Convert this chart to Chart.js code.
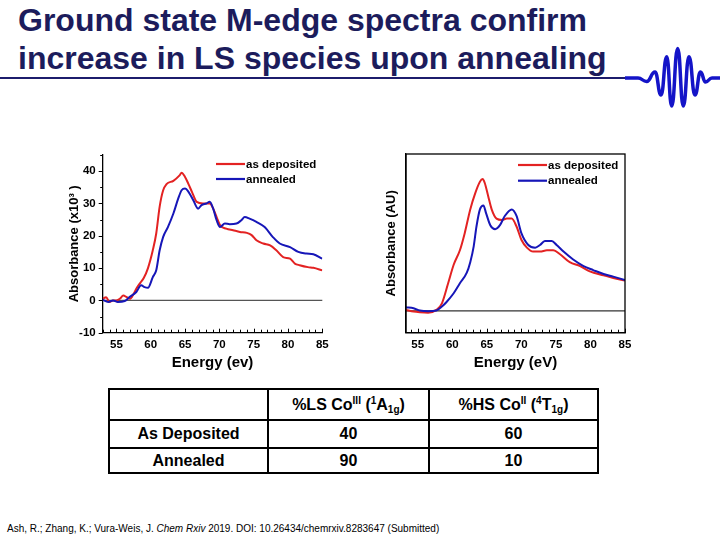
<!DOCTYPE html>
<html>
<head>
<meta charset="utf-8">
<script src="https://cdn.jsdelivr.net/npm/chart.js@4.4.1/dist/chart.umd.min.js"></script>
<style>
  html, body { margin: 0; padding: 0; background: #fff; }
  body { width: 720px; height: 540px; position: relative; overflow: hidden;
         font-family: "Liberation Sans", Arial, sans-serif; }
  #title { position: absolute; left: 18px; top: 2px; font-size: 32px; font-weight: bold;
           line-height: 37.5px; color: #1c1c5c; white-space: nowrap; }
  #rule { position: absolute; left: 0; top: 77px; width: 628px; height: 1.5px; background: #1c1c6c; }
  #wave { position: absolute; left: 0; top: 0; }
  canvas { position: absolute; }
  #tbl { position: absolute; left: 108px; top: 388px; border-collapse: collapse;
         font-weight: bold; font-size: 16px; color: #000; }
  #tbl td { border: 2px solid #000; text-align: center; padding: 0; }
  #tbl sup, #tbl sub { font-size: 10px; line-height: 0; position: relative; vertical-align: baseline; }
  #tbl sup { top: -0.6em; }
  #tbl sub { top: 0.35em; }
  #cite { position: absolute; left: 7px; top: 523px; font-size: 10px; color: #000;
          font-family: "Liberation Sans", Arial, sans-serif; white-space: nowrap; }
</style>
</head>
<body>
<div id="title">Ground state M-edge spectra confirm<br>increase in LS species upon annealing</div>
<div id="rule"></div>
<svg id="wave" width="720" height="120"><path id="wavePath" fill="none" stroke="#1414c8" stroke-width="3.5" stroke-linejoin="round"/></svg>

<canvas id="leftChart" width="280" height="240" style="left:60px;top:140px"></canvas>
<canvas id="rightChart" width="280" height="240" style="left:370px;top:140px"></canvas>

<table id="tbl">
  <tr style="height:31px"><td style="width:157px"></td><td style="width:159px">%LS Co<sup>III</sup> (<sup>1</sup>A<sub>1g</sub>)</td><td style="width:167px">%HS Co<sup>II</sup> (<sup>4</sup>T<sub>1g</sub>)</td></tr>
  <tr style="height:28px"><td>As Deposited</td><td id="c11"></td><td id="c12"></td></tr>
  <tr style="height:25px"><td>Annealed</td><td id="c21"></td><td id="c22"></td></tr>
</table>

<div id="cite">Ash, R.; Zhang, K.; Vura-Weis, J. <i>Chem Rxiv</i> 2019. DOI: 10.26434/chemrxiv.8283647 (Submitted)</div>

<script>
// ---- data ----
const seriesLabels = ["as deposited", "annealed"];

// left panel, Absorbance (x10^3)
const leftEnergyDep = [53, 53.5, 54, 54.5, 55, 55.5, 56, 56.5, 57, 57.5, 58, 58.5, 59, 59.6, 60.3, 60.8, 61.3, 61.8, 62.3, 63.3, 64.2, 64.5, 65, 65.5, 66, 66.7, 67.6, 68.6, 69.1, 69.6, 70.1, 71, 72, 73, 74, 74.7, 75.4, 76.4, 77.4, 78.3, 79.3, 80.3, 81, 81.7, 82.9, 83.7, 85];
const leftAbsDep = [0.5, 1, -0.5, 0, 0, 0.5, 1.5, 1, 0.5, 2, 4, 5.5, 7, 10, 15.5, 20.7, 29, 34, 36, 37, 38.7, 39.5, 38.2, 36, 33.6, 30.5, 30, 30, 28.4, 25.8, 23.3, 22.2, 21.7, 21.2, 20.9, 20.2, 18.6, 17.6, 17, 15.5, 13.4, 12.9, 11.4, 10.9, 10.3, 10.1, 9.3];
const leftEnergyAnn = [53, 53.8, 54.5, 55.2, 56.2, 56.9, 57.9, 58.6, 59.1, 59.6, 60.3, 60.8, 61.3, 61.8, 62.5, 63.3, 64, 64.5, 65, 65.5, 66.2, 66.9, 67.4, 68.1, 68.6, 69.1, 69.6, 70.1, 70.8, 71.5, 72.5, 73.2, 73.7, 74.4, 75.4, 76.6, 77.8, 78.8, 80.3, 81.5, 82.7, 83.7, 85];
const leftAbsAnn = [0.2, -0.5, 0, -0.5, -0.2, 1, 2.6, 4.7, 4.1, 3.9, 7.2, 9.3, 15.5, 19.6, 22.7, 26.9, 31.5, 34.1, 34.6, 33.6, 31, 28.4, 29.5, 30, 30.5, 28.4, 24.8, 22.7, 23.8, 23.6, 23.8, 24.8, 25.8, 25.3, 24.3, 22.7, 19.6, 17.6, 16.5, 15, 14.5, 14.3, 12.9];

// right panel, Absorbance (AU)
const rightEnergyDep = [53.3, 54.4, 55.3, 56.5, 57.7, 58.5, 59.4, 60.2, 61.1, 61.8, 62.6, 63.3, 64, 64.4, 64.7, 65.2, 65.7, 66.4, 67.2, 67.9, 68.6, 69.3, 70, 70.8, 71.7, 72.7, 73.7, 74.6, 75.6, 77, 78.5, 79.9, 81.9, 83.3, 85];
const rightAbsDep = [0.008, -0.005, -0.01, -0.013, 0.008, 0.058, 0.21, 0.35, 0.46, 0.59, 0.77, 0.89, 0.98, 1.0, 0.97, 0.87, 0.77, 0.70, 0.69, 0.70, 0.70, 0.64, 0.54, 0.48, 0.45, 0.45, 0.46, 0.46, 0.43, 0.37, 0.34, 0.30, 0.27, 0.25, 0.23];
const rightEnergyAnn = [53.3, 54.4, 55.3, 56.5, 57.7, 58.5, 59.2, 60.2, 61.1, 62.1, 62.6, 63.1, 63.5, 64, 64.5, 64.9, 65.5, 66.2, 66.9, 67.6, 68.6, 69.3, 70, 71, 72, 72.7, 73.4, 74.4, 75.1, 76.1, 77.5, 79, 80.4, 81.9, 83.3, 85];
const rightAbsAnn = [0.028, 0.02, 0.003, -0.003, 0.003, 0.033, 0.07, 0.134, 0.21, 0.29, 0.37, 0.49, 0.64, 0.77, 0.80, 0.74, 0.65, 0.62, 0.65, 0.72, 0.77, 0.72, 0.59, 0.50, 0.48, 0.50, 0.53, 0.53, 0.50, 0.45, 0.39, 0.34, 0.31, 0.28, 0.26, 0.235];

// table
const pctLS = [40, 90];
const pctHS = [60, 10];

// ---- table cells ----
document.getElementById("c11").textContent = pctLS[0];
document.getElementById("c12").textContent = pctHS[0];
document.getElementById("c21").textContent = pctLS[1];
document.getElementById("c22").textContent = pctHS[1];

// ---- logo wave (hand placed extremes) ----
const wavePts = [[625,78],[638,78],[646.7,81.5],[655,72],[661,95],[666.7,56.7],[671.7,106],[677.7,48.5],[683.3,106],[689,56.7],[695,95],[700.5,72],[705.5,82],[712,78],[720,78]];
let d = "M" + wavePts[0][0] + " " + wavePts[0][1];
for (let i = 1; i < wavePts.length; i++) {
  const [x0, y0] = wavePts[i-1], [x1, y1] = wavePts[i];
  const h = (x1 - x0) / 2;
  d += ` C${x0+h} ${y0} ${x1-h} ${y1} ${x1} ${y1}`;
}
document.getElementById("wavePath").setAttribute("d", d);

// ---- charts ----
Chart.defaults.font.family = "'Liberation Sans', Arial, sans-serif";
Chart.defaults.color = "#000";

const RED = "#e32222";
const BLUE = "#1616b8";

function pts(xs, ys) { return xs.map((x, i) => ({x: x, y: ys[i]})); }

// zero line, tick marks, optional box and an in-plot legend
const framePlugin = {
  id: "frame",
  beforeDatasetsDraw(chart, args, o) {
    const {ctx, chartArea: a, scales: {y}} = chart;
    const y0 = y.getPixelForValue(0);
    ctx.save();
    ctx.strokeStyle = o.zeroColor;
    ctx.lineWidth = 1.3;
    ctx.beginPath(); ctx.moveTo(a.left, y0); ctx.lineTo(a.right, y0); ctx.stroke();
    ctx.restore();
  },
  afterDraw(chart, args, o) {
    const {ctx, chartArea: a, scales: {x, y}} = chart;
    ctx.save();
    ctx.strokeStyle = "#000";
    ctx.lineWidth = 1;
    ctx.beginPath();
    for (let v = Math.ceil(x.min); v <= x.max; v++) {
      const px = Math.round(x.getPixelForValue(v)) + 0.5;
      const len = v % 5 === 0 ? 4 : 3;
      ctx.moveTo(px, a.bottom); ctx.lineTo(px, a.bottom - len);
    }
    if (o.yMinor) {
      for (let v = Math.ceil(y.min / o.yMinor) * o.yMinor; v <= y.max; v += o.yMinor) {
        const py = Math.round(y.getPixelForValue(v)) + 0.5;
        const len = v % (o.yMinor * 2) === 0 ? 4 : 2.5;
        ctx.moveTo(a.left, py); ctx.lineTo(a.left - len, py);
      }
    }
    ctx.stroke();
    if (o.box) {
      ctx.lineWidth = 1.3;
      ctx.strokeRect(a.left, a.top, a.right - a.left, a.bottom - a.top);
    }
    // legend
    ctx.font = "bold 11.5px 'Liberation Sans', Arial, sans-serif";
    ctx.textBaseline = "middle";
    chart.data.datasets.forEach((ds, i) => {
      const ly = o.legendY + i * o.legendGap;
      ctx.strokeStyle = ds.borderColor;
      ctx.lineWidth = 2.2;
      ctx.beginPath(); ctx.moveTo(o.legendX, ly); ctx.lineTo(o.legendX + 29, ly); ctx.stroke();
      ctx.fillStyle = "#000";
      ctx.fillText(ds.label, o.legendX + 30, ly + 0.5);
    });
    ctx.restore();
  }
};

function makeChart(id, dep, ann, cfg) {
  return new Chart(document.getElementById(id), {
    type: "line",
    data: {
      datasets: [
        { label: seriesLabels[0], data: dep, borderColor: RED, borderWidth: 2, pointRadius: 0,
          cubicInterpolationMode: "monotone", order: 2 },
        { label: seriesLabels[1], data: ann, borderColor: BLUE, borderWidth: 2, pointRadius: 0,
          cubicInterpolationMode: "monotone", order: 1 }
      ]
    },
    options: {
      responsive: false,
      animation: false,
      devicePixelRatio: 1,
      layout: { padding: { top: cfg.padTop, right: cfg.padRight, left: 0, bottom: 0 } },
      plugins: {
        legend: { display: false },
        tooltip: { enabled: false },
        frame: cfg.frame
      },
      scales: {
        x: {
          type: "linear", min: cfg.xMin, max: 85,
          afterFit: s => { s.height = cfg.xAxisH; },
          grid: { display: false, drawTicks: false },
          border: { display: true, color: "#000", width: 1.3 },
          ticks: { stepSize: 5, includeBounds: false, maxRotation: 0, padding: 5,
                   font: { size: 11.5, weight: "bold" } },
          title: { display: true, text: cfg.xTitle, font: { size: 15, weight: "bold" },
                   padding: { top: 0, bottom: 8 } }
        },
        y: {
          min: cfg.yMin, max: cfg.yMax,
          afterFit: s => { s.width = cfg.yAxisW; },
          grid: { display: false, drawTicks: false },
          border: { display: true, color: "#000", width: 1.3 },
          ticks: { display: cfg.yTicks, stepSize: 10, includeBounds: false, padding: 7,
                   font: { size: 11.5, weight: "bold" } },
          title: { display: true, text: cfg.yTitle, font: { size: 13, weight: "bold" },
                   padding: { top: cfg.yTitlePad, bottom: 0 } }
        }
      }
    },
    plugins: [framePlugin]
  });
}

makeChart("leftChart", pts(leftEnergyDep, leftAbsDep), pts(leftEnergyAnn, leftAbsAnn), {
  xMin: 53, yMin: -10, yMax: 45, yTicks: true,
  padTop: 15, padRight: 17.7, xAxisH: 47.3, yAxisW: 42.7, yTitlePad: 7,
  xTitle: "Energy (ev)", yTitle: "Absorbance (x10\u00b3 )",
  frame: { zeroColor: "#555", yMinor: 5, box: false, legendX: 156, legendY: 24, legendGap: 15 }
});

makeChart("rightChart", pts(rightEnergyDep, rightAbsDep), pts(rightEnergyAnn, rightAbsAnn), {
  xMin: 53.3, yMin: -0.165, yMax: 1.19, yTicks: false,
  padTop: 14, padRight: 25, xAxisH: 47.3, yAxisW: 36, yTitlePad: 14,
  xTitle: "Energy (eV)", yTitle: "Absorbance (AU)",
  frame: { zeroColor: "#333", yMinor: 0, box: true, legendX: 148, legendY: 25, legendGap: 15.7 }
});
</script>
</body>
</html>
